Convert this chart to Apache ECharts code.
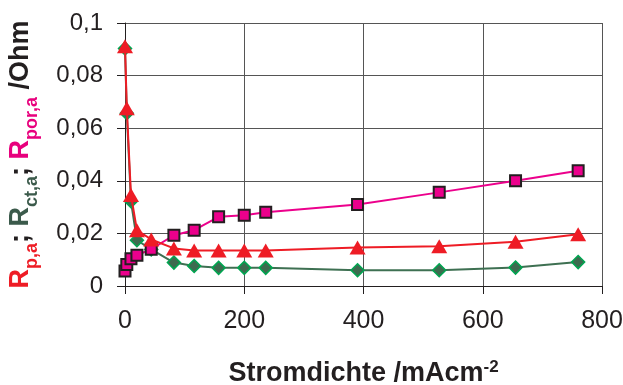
<!DOCTYPE html>
<html>
<head>
<meta charset="utf-8">
<script src="https://cdn.jsdelivr.net/npm/echarts@6/dist/echarts.min.js"></script>
<style>
  html, body { margin: 0; padding: 0; background: #fff; }
  #chart { width: 623px; height: 385px; }
</style>
</head>
<body>
<div id="chart"></div>
<script>
// Stromdichte /mAcm-2
var stromdichte = [0, 3, 10, 20, 44, 82, 116, 157, 200, 236, 390, 527, 655, 760];
// R_p,a
var rpa = [0.0912, 0.0676, 0.0346, 0.0212, 0.0177, 0.0143, 0.0135, 0.0135, 0.0135, 0.0135, 0.0146, 0.0151, 0.0168, 0.0197];
// R_ct,a
var rcta = [0.0903, 0.0657, 0.0322, 0.0174, 0.0139, 0.0089, 0.0076, 0.0069, 0.0069, 0.0069, 0.0060, 0.0060, 0.0070, 0.0091];
// R_por,a
var rpora = [0.0057, 0.0082, 0.0104, 0.0117, 0.0140, 0.0193, 0.0212, 0.0263, 0.0269, 0.0280, 0.0310, 0.0356, 0.0400, 0.0438];

function pairs(xs, ys) {
  return xs.map(function (x, i) { return [x, ys[i]]; });
}

var font = 'Liberation Sans, Arial, sans-serif';
var gridColor = '#555';

var option = {
  animation: false,
  textStyle: { fontFamily: font },
  grid: { left: 125, right: 21, top: 23, bottom: 99, containLabel: false, outerBoundsMode: 'none' },
  xAxis: {
    type: 'value',
    min: 0, max: 800, interval: 200,
    name: 'Stromdichte /mAcm{sup|-2}',
    nameLocation: 'middle',
    nameGap: 73,
    nameTextStyle: {
      fontFamily: font, fontWeight: 'bold', fontSize: 27, color: '#231f20',
      lineHeight: 30, verticalAlign: 'top',
      rich: {
        sup: { fontFamily: font, fontWeight: 'bold', fontSize: 17, lineHeight: 16, verticalAlign: 'top', color: '#231f20' }
      }
    },
    axisLine: { show: true, onZero: false, lineStyle: { color: '#231f20', width: 1 } },
    axisTick: { show: true, inside: false, length: 8, lineStyle: { color: '#231f20' } },
    axisLabel: { margin: 23, fontSize: 25, color: '#231f20', fontFamily: font },
    splitLine: { show: true, lineStyle: { color: gridColor, width: 1 } }
  },
  yAxis: {
    type: 'value',
    min: 0, max: 0.1, interval: 0.02,
    name: '{r|R}{rs|p,a}{k|; }{g|R}{gs|ct,a}{k|; }{p|R}{ps|por,a}{k| /Ohm}',
    nameLocation: 'middle',
    nameRotate: 90,
    nameGap: 88,
    nameTextStyle: {
      fontFamily: font, fontWeight: 'bold', fontSize: 26,
      rich: {
        r: { fontFamily: font, fontWeight: 'bold', fontSize: 27, lineHeight: 30, verticalAlign: 'top', color: '#ee1c25' },
        rs: { fontFamily: font, fontWeight: 'bold', fontSize: 18, lineHeight: 18, padding: [16, 0, 0, 0], verticalAlign: 'top', color: '#ee1c25' },
        g: { fontFamily: font, fontWeight: 'bold', fontSize: 27, lineHeight: 30, verticalAlign: 'top', color: '#3b5a4b' },
        gs: { fontFamily: font, fontWeight: 'bold', fontSize: 18, lineHeight: 18, padding: [16, 0, 0, 0], verticalAlign: 'top', color: '#3b5a4b' },
        p: { fontFamily: font, fontWeight: 'bold', fontSize: 27, lineHeight: 30, verticalAlign: 'top', color: '#e8007d' },
        ps: { fontFamily: font, fontWeight: 'bold', fontSize: 18, lineHeight: 18, padding: [16, 0, 0, 0], verticalAlign: 'top', color: '#e8007d' },
        k: { fontFamily: font, fontWeight: 'bold', fontSize: 27, lineHeight: 30, verticalAlign: 'top', color: '#231f20' }
      }
    },
    axisLine: { show: true, lineStyle: { color: '#231f20', width: 1 } },
    axisTick: { show: true, inside: false, length: 8, lineStyle: { color: '#231f20' } },
    axisLabel: {
      margin: 22, fontSize: 24, color: '#231f20', fontFamily: font,
      formatter: function (v) { return String(+v.toFixed(3)).replace('.', ','); }
    },
    splitLine: { show: true, lineStyle: { color: gridColor, width: 1 } }
  },
  series: [
    {
      name: 'Rct,a', type: 'line', z: 2,
      data: pairs(stromdichte, rcta),
      symbol: 'diamond', symbolSize: [13, 13],
      lineStyle: { color: '#3e7052', width: 2 },
      itemStyle: { color: '#3d6b4f', borderColor: '#00a651', borderWidth: 1.5 }
    },
    {
      name: 'Rpor,a', type: 'line', z: 3,
      data: pairs(stromdichte, rpora),
      symbol: 'rect', symbolSize: 11,
      lineStyle: { color: '#ec008c', width: 2 },
      itemStyle: { color: '#ec008c', borderColor: '#231f20', borderWidth: 2 }
    },
    {
      name: 'Rp,a', type: 'line', z: 4,
      data: pairs(stromdichte, rpa),
      symbol: 'triangle', symbolSize: [16, 14],
      lineStyle: { color: '#ee1c25', width: 2 },
      itemStyle: { color: '#ee1c25', borderWidth: 0 }
    }
  ]
};

var chart = echarts.init(document.getElementById('chart'));
chart.setOption(option);
</script>
</body>
</html>
